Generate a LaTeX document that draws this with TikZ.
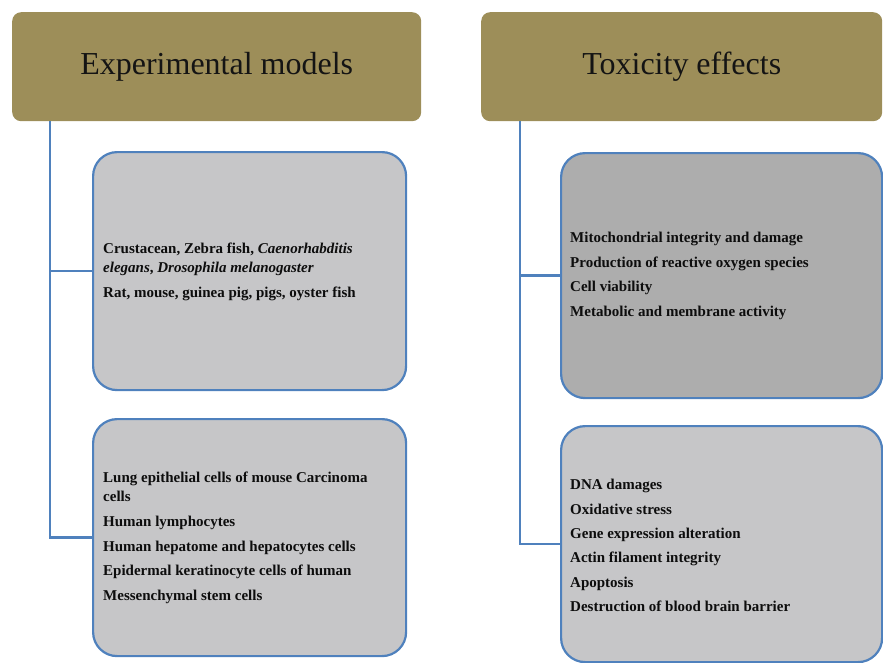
\documentclass[tikz,border=0pt]{standalone}
\usepackage{fontspec}
\setmainfont{Liberation Serif}
\definecolor{headolive}{RGB}{157,142,89}
\definecolor{panelblue}{RGB}{79,129,189}
\definecolor{panelgrey}{RGB}{198,198,200}
\definecolor{paneldark}{RGB}{173,173,173}
\begin{document}
\begin{tikzpicture}[x=1pt,y=-1pt,
  header/.style={rectangle, rounded corners=9pt, fill=headolive, draw=none,
    inner sep=0pt, anchor=north west, text=black!92,
    font=\fontsize{32}{38}\selectfont},
  panel/.style={rectangle, rounded corners=24pt, draw=panelblue, line width=2.2pt,
    fill=panelgrey, inner sep=0pt, anchor=north west},
  items/.style={anchor=north west, inner sep=0pt, align=left, text=black!95,
    font=\bfseries\fontsize{15}{19}\selectfont},
  link/.style={draw=panelblue, line width=2.6pt}]

\useasboundingbox (0,0) rectangle (883,662);

% column headers
\node[header, minimum width=409pt, minimum height=109pt] (hdrL) at (12,12) {Experimental models};
\node[header, minimum width=401pt, minimum height=109pt] (hdrR) at (481,12) {Toxicity effects};

% left column panels
\node[panel, minimum width=313pt, minimum height=238pt] (boxL1) at (92,151) {};
\node[panel, minimum width=313pt, minimum height=237pt] (boxL2) at (92,418) {};

% right column panels
\node[panel, fill=paneldark, minimum width=321pt, minimum height=245pt] (boxR1) at (560,152) {};
\node[panel, minimum width=321pt, minimum height=236pt] (boxR2) at (560,425) {};

% panel contents
\node[items] (txtL1) at (103,243) {Crustacean, Zebra fish, \textit{Caenorhabditis}\\
  \textit{elegans}, \textit{Drosophila melanogaster}\\[5.5pt]
  Rat, mouse, guinea pig, pigs, oyster fish};
\node[items] (txtL2) at (103,472) {Lung epithelial cells of mouse Carcinoma\\
  cells\\[6pt]
  Human lymphocytes\\[5.5pt]
  Human hepatome and hepatocytes cells\\[5.5pt]
  Epidermal keratinocyte cells of human\\[5.5pt]
  Messenchymal stem cells};
\node[items] (txtR1) at (570,232) {Mitochondrial integrity and damage\\[5.5pt]
  Production of reactive oxygen species\\[5.5pt]
  Cell viability\\[5.5pt]
  Metabolic and membrane activity};
\node[items] (txtR2) at (570,479) {DNA damages\\[5.5pt]
  Oxidative stress\\[5.5pt]
  Gene expression alteration\\[5pt]
  Actin filament integrity\\[5.5pt]
  Apoptosis\\[5.5pt]
  Destruction of blood brain barrier};

% tree connectors
\coordinate (spineL) at ([xshift=38pt]hdrL.south west);
\coordinate (spineR) at ([xshift=39pt]hdrR.south west);
\draw[link] (spineL) |- (boxL2.west);
\draw[link] (spineL |- boxL1.west) -- (boxL1.west);
\draw[link] (spineR) |- (boxR2.west);
\draw[link] (spineR |- boxR1.west) -- (boxR1.west);

\end{tikzpicture}
\end{document}
